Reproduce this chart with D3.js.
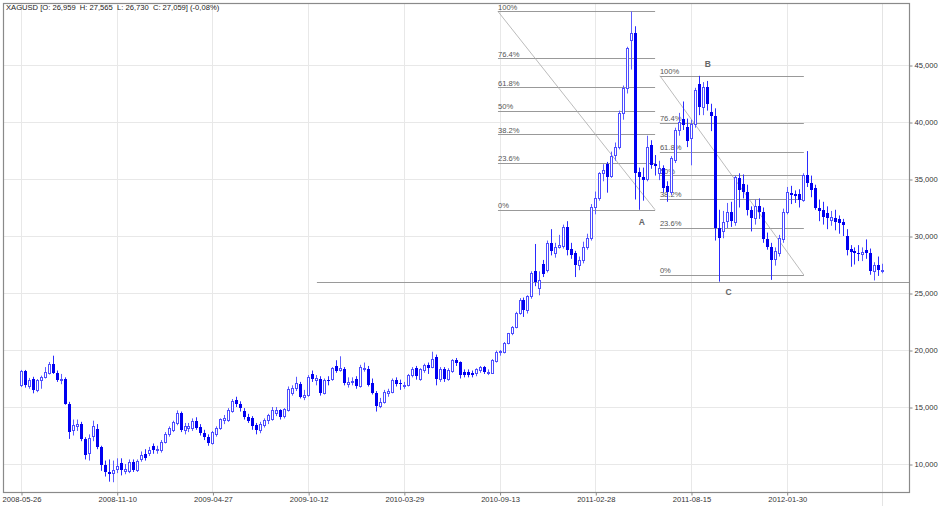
<!DOCTYPE html>
<html><head><meta charset="utf-8">
<script src="https://cdn.jsdelivr.net/npm/d3@7"></script>
<style>
body{margin:0;background:#fff}
svg{display:block}
text{font-family:"Liberation Sans",Arial,Helvetica,sans-serif}
</style>
</head><body>
<svg id="c" width="940" height="506"></svg>
<script>
// ---------- DATA ----------
const symbol = "XAGUSD";
const changeText = "(-0,08%)";
const tickLabels = ["2008-05-26","2008-11-10","2009-04-27","2009-10-12","2010-03-29","2010-09-13","2011-02-28","2011-08-15","2012-01-30"];
const tickBars = [0,24,48,72,96,120,144,168,192];
const extraGridBar = [216];
const yTicks = [10,15,20,25,30,35,40,45];

const opens = [16.95,18.15,16.85,17.5,16.5,17.35,17.6,17.95,18.75,17.95,17.4,17.45,15.3,13.0,13.35,13.5,12.2,11.0,12.5,13.1,
11.5,9.9,9.3,9.2,9.6,10.1,9.4,9.4,10.2,9.5,10.4,10.9,10.95,11.6,11.2,11.25,11.95,12.6,13.0,13.6,
14.5,13.0,13.2,13.15,13.75,13.25,12.75,12.4,11.8,12.6,13.15,13.9,13.85,14.65,15.65,15.3,14.65,14.15,14.0,13.4,
13.0,13.45,13.85,13.95,14.45,14.7,14.2,14.75,16.2,16.65,17.0,15.9,16.05,17.9,17.35,17.5,16.25,17.4,17.5,18.6,
18.25,18.3,17.0,17.15,17.5,16.8,18.3,18.3,17.1,16.2,15.1,15.45,16.2,16.35,17.35,17.1,16.85,16.95,17.8,18.4,
17.5,18.25,18.7,18.55,19.35,17.45,18.3,17.45,18.15,19.1,18.95,18.1,18.1,18.0,17.95,18.25,18.5,17.95,18.0,19.0,
19.8,19.85,20.65,21.45,22.05,23.25,24.4,23.5,24.75,26.9,25.4,27.55,27.0,29.35,28.5,29.05,29.1,30.8,28.9,28.5,
27.45,27.9,29.05,29.8,32.55,33.3,35.5,36.3,35.3,37.1,37.85,40.8,43.0,47.2,47.8,35.6,35.2,35.0,37.95,36.3,
35.5,35.95,34.35,33.9,36.7,39.3,40.3,39.6,38.6,39.85,43.35,41.3,43.05,40.85,40.55,30.7,30.4,31.3,32.1,31.25,
35.05,34.6,33.9,32.3,31.6,32.6,32.1,29.7,29.05,27.95,28.55,29.7,32.1,33.75,33.65,33.65,33.2,35.35,34.65,34.2,
32.45,32.3,32.0,31.4,31.6,31.5,31.25,30.0,28.9,28.65,28.55,28.45,28.8,28.5,26.9,27.45,26.959];
const highs = [18.25,18.25,17.55,17.65,17.45,17.75,18.5,18.95,19.5,18.2,17.9,17.6,15.45,13.9,13.9,13.7,12.35,12.6,13.8,13.5,
11.6,10.3,10.4,10.3,10.5,10.5,10.0,10.4,10.4,10.4,11.1,11.3,11.5,11.8,11.6,12.1,12.8,13.3,13.8,14.7,
14.6,13.6,13.6,14.0,14.1,13.5,13.0,12.6,12.9,13.3,14.0,14.3,14.9,15.7,15.9,15.5,14.9,14.4,14.2,13.6,
13.7,14.0,14.4,15.0,15.0,14.8,14.9,16.8,16.9,17.65,17.2,16.5,17.8,18.2,17.8,17.7,17.5,17.7,18.5,19.1,
19.45,18.5,17.6,17.6,17.7,18.7,18.9,18.6,17.5,16.4,15.8,16.5,16.6,17.5,17.6,17.4,17.2,17.9,18.5,18.6,
18.4,18.8,18.9,19.85,19.6,18.5,18.5,18.4,19.2,19.3,19.0,18.3,18.3,18.2,18.4,18.6,18.6,18.3,19.2,19.95,
20.0,20.7,21.5,22.1,23.35,24.55,24.6,24.8,26.9,29.3,26.9,27.9,29.6,30.6,29.4,30.1,31.0,31.3,29.4,28.7,
28.2,29.5,30.2,32.8,33.9,35.6,36.3,36.5,37.4,38.2,41.0,43.2,46.6,49.7,48.4,36.0,36.0,38.8,38.4,37.1,
36.6,36.2,34.8,37.0,39.5,40.8,41.8,40.3,40.2,43.0,44.05,43.5,43.6,41.6,41.2,32.3,32.2,32.9,33.0,35.3,
35.5,35.4,34.5,32.6,33.2,33.3,32.5,30.3,29.4,29.0,30.1,32.4,34.3,34.4,34.0,34.1,35.5,37.45,35.3,34.5,
33.2,33.0,32.6,32.2,32.3,31.8,31.5,30.6,29.2,29.0,29.2,29.0,29.7,28.9,27.7,28.2,27.565];
const lows = [16.75,16.7,16.6,16.2,16.3,16.6,17.5,17.85,17.9,17.2,17.0,15.2,12.2,12.5,12.9,12.0,10.4,10.3,12.0,11.3,
9.4,8.9,8.45,8.4,9.2,9.0,9.1,9.2,9.3,9.3,10.2,10.3,10.7,10.9,10.9,11.0,11.8,12.4,12.8,13.4,
12.8,12.6,12.8,12.9,13.0,12.5,12.1,11.6,11.7,12.4,13.0,13.5,13.7,14.5,15.0,14.6,13.9,13.6,13.0,12.6,
12.7,13.2,13.5,13.8,14.2,13.9,14.0,14.6,16.0,16.4,15.75,15.6,15.9,17.2,16.9,16.0,16.1,16.9,17.3,18.0,
18.1,16.9,16.7,16.9,16.6,16.7,18.1,16.8,16.1,14.6,14.9,15.3,15.9,16.2,16.8,16.5,16.6,16.8,17.6,17.4,
17.3,18.0,17.9,18.4,16.9,17.2,17.2,17.3,18.0,18.6,17.5,17.6,17.6,17.6,17.7,18.0,17.9,17.8,17.9,18.9,
19.5,19.7,20.5,21.3,21.9,23.1,22.9,23.2,24.5,25.6,24.8,26.4,26.8,28.3,28.1,28.9,28.9,28.3,28.0,26.4,
27.0,27.6,28.8,29.6,31.9,33.1,34.8,33.8,35.1,36.6,37.6,40.2,42.5,44.6,33.2,32.3,33.1,34.8,35.9,35.3,
34.9,33.8,33.0,33.6,36.4,38.8,39.3,37.8,36.2,39.5,40.6,40.6,41.0,39.2,29.6,26.0,29.8,30.7,30.8,30.9,
32.5,33.3,31.8,30.4,31.0,31.5,29.4,28.8,26.15,27.4,28.2,29.4,31.9,32.8,32.9,32.5,33.0,34.3,33.4,32.3,
31.3,31.0,30.6,30.9,30.5,30.2,30.0,28.3,27.3,27.5,27.8,27.8,28.0,26.6,26.1,26.5,26.73];
const closes = [18.15,16.9,17.4,16.45,17.35,17.6,18.1,18.75,17.95,17.4,17.45,15.3,12.85,13.4,13.5,12.15,10.8,12.25,13.3,11.5,
9.9,9.3,9.1,9.5,9.8,9.5,9.6,10.2,9.45,10.3,10.8,10.5,11.25,11.2,11.3,11.95,12.65,13.15,13.65,14.45,
13.0,13.35,13.3,13.8,13.2,12.7,12.35,11.8,12.8,13.2,13.95,14.0,14.75,15.55,15.25,14.9,14.15,13.75,13.3,13.0,
13.55,13.9,14.3,14.75,14.75,14.1,14.8,16.6,16.7,17.1,15.9,16.05,17.65,17.45,17.55,16.2,17.35,17.3,18.4,18.2,
18.4,17.1,17.2,17.3,16.8,18.55,18.4,16.95,16.2,15.05,15.45,16.35,16.4,17.35,17.0,17.0,16.95,17.8,18.3,17.7,
18.3,18.7,18.4,19.25,17.45,18.35,17.45,18.25,19.1,18.9,17.85,17.8,17.85,17.85,18.3,18.5,18.1,18.1,19.1,19.85,
19.9,20.65,21.45,22.05,23.25,24.35,23.5,24.7,26.75,26.0,26.1,26.7,29.35,28.65,29.05,29.25,30.8,28.8,28.35,27.5,
27.9,29.05,29.8,32.55,33.3,35.5,35.8,35.2,37.0,37.85,40.8,43.0,46.5,47.8,35.5,35.2,34.9,37.8,36.2,36.15,
35.95,34.2,33.9,36.8,39.3,40.0,39.7,38.3,39.85,42.8,41.3,43.05,41.6,40.55,30.7,29.85,31.25,32.1,31.3,35.15,
34.0,33.9,32.3,31.6,32.6,32.1,29.7,29.05,27.9,28.65,29.8,32.1,33.85,33.6,33.5,33.2,35.35,34.65,34.05,32.45,
32.15,31.7,31.55,31.7,31.25,31.1,30.95,28.8,28.6,28.5,28.4,28.6,28.5,26.9,27.45,27.0,27.059];

// Fibonacci retracements (A: peak->low, B->C)
const fibLevels = [1, 0.764, 0.618, 0.5, 0.382, 0.236, 0];
const fibLevelLabels = ["100%","76.4%","61.8%","50%","38.2%","23.6%","0%"];
const fibHigh = [49.7, 44.06];
const fibLow = [32.3, 26.58];
const fibStartBar = [119.6, 160.2];
const fibEndBar = [159.0, 196.3];
const supportLevel = 26.0;
const supportStartBar = 74.2;
const pointLabels = ["A","B","C"];
const pointBars = [155.7, 172.2, 177.4];
const pointValues = [31.2, 45.05, 25.0];

// ---------- CHART ----------
const svg = d3.select("#c");
const W = 940, H = 506;
const L = 3, T = 3, R = 909, B = 492;
const x = d3.scaleLinear().domain([0, 192]).range([21, 786.7]);
const y = d3.scaleLinear().domain([10, 45]).range([464, 65]);
const fmt = v => v.toFixed(3).replace('.', ',');
const px = v => Math.round(v) + 0.5;

svg.append("rect").attr("width", W).attr("height", H).attr("fill", "#fff");

// grid
const grid = svg.append("g");
grid.selectAll("line.h").data(yTicks).join("line")
  .attr("x1", L).attr("x2", R)
  .attr("y1", d => px(y(d))).attr("y2", d => px(y(d)))
  .attr("stroke", "#e8e8e8");
grid.selectAll("line.v").data(tickBars).join("line")
  .attr("x1", d => px(x(d))).attr("x2", d => px(x(d)))
  .attr("y1", T).attr("y2", B)
  .attr("stroke", "#e8e8e8");
grid.selectAll("line.v2").data(extraGridBar).join("line")
  .attr("x1", d => px(x(d))).attr("x2", d => px(x(d)))
  .attr("y1", T).attr("y2", H)
  .attr("stroke", "#e4e4e4");

// support line
svg.append("line")
  .attr("x1", x(supportStartBar)).attr("x2", R)
  .attr("y1", px(y(supportLevel))).attr("y2", px(y(supportLevel)))
  .attr("stroke", "#9a9a9a");

// fib lines
const fibG = svg.append("g");
fibHigh.forEach((hi, k) => {
  const lo = fibLow[k];
  const x0 = x(fibStartBar[k]), x1 = x(fibEndBar[k]);
  fibLevels.forEach((lv) => {
    const yy = px(y(lo + (hi - lo) * lv));
    fibG.append("line").attr("x1", x0).attr("x2", x1).attr("y1", yy).attr("y2", yy)
      .attr("stroke", "#999").attr("stroke-width", 1);
  });
  fibG.append("line").attr("x1", x0).attr("y1", y(hi)).attr("x2", x1).attr("y2", y(lo))
    .attr("stroke", "#aaa").attr("stroke-width", 0.8);
});

// candles
const data = closes.map((c, i) => ({i, o: opens[i], h: highs[i], l: lows[i], c}));
const upCol = "#4d4dff", dnCol = "#0000f0";
const cg = svg.append("g");
cg.selectAll("line.w").data(data).join("line")
  .attr("x1", d => Math.round(x(d.i)) + 0.5).attr("x2", d => Math.round(x(d.i)) + 0.5)
  .attr("y1", d => y(d.h)).attr("y2", d => y(d.l))
  .attr("stroke", d => d.c >= d.o ? "#5c5cff" : "#2a2aff").attr("stroke-width", 1);
cg.selectAll("rect.b").data(data).join("rect")
  .attr("x", d => d.c >= d.o ? Math.round(x(d.i)) - 0.5 : Math.round(x(d.i)) - 1)
  .attr("width", d => d.c >= d.o ? 2 : 3)
  .attr("y", d => {
    const t = Math.round(y(Math.max(d.o, d.c)));
    return d.c >= d.o ? t + 0.5 : t;
  })
  .attr("height", d => {
    const t = Math.round(y(Math.max(d.o, d.c))), b = Math.round(y(Math.min(d.o, d.c)));
    return Math.max(1, b - t);
  })
  .attr("fill", d => d.c >= d.o ? "#fff" : dnCol)
  .attr("stroke", d => d.c >= d.o ? upCol : "none")
  .attr("stroke-width", 1);

// fib labels
fibHigh.forEach((hi, k) => {
  const lo = fibLow[k];
  const x0 = x(fibStartBar[k]);
  fibG.selectAll(null).data(fibLevels).join("text")
    .attr("x", x0).attr("y", (lv) => y(lo + (hi - lo) * lv) - 1.5)
    .attr("font-size", 7.6).attr("fill", "#555")
    .text((lv, j) => fibLevelLabels[j]);
});

// point labels
svg.selectAll("text.pt").data(pointLabels).join("text")
  .attr("x", (d, i) => x(pointBars[i])).attr("y", (d, i) => y(pointValues[i]))
  .attr("text-anchor", "middle").attr("dominant-baseline", "middle")
  .attr("font-size", 8.5).attr("font-weight", "bold").attr("fill", "#666")
  .text(d => d);

// frame
svg.append("rect").attr("x", L + 0.5).attr("y", T + 0.5).attr("width", R - L).attr("height", B - T)
  .attr("fill", "none").attr("stroke", "#8a8a8a").attr("stroke-width", 1.2);

// y axis (right)
const yAxis = d3.axisRight(y).tickValues(yTicks).tickFormat(fmt).tickSize(3).tickPadding(2);
const ya = svg.append("g").attr("transform", `translate(${R + 0.5},0.5)`).call(yAxis);
ya.select(".domain").remove();
ya.selectAll("line").attr("stroke", "#888");
ya.selectAll("text").attr("font-size", 7.6).attr("fill", "#333")
  .attr("font-family", '"Liberation Sans",Arial,sans-serif');

// x axis
const xAxis = d3.axisBottom(x).tickValues(tickBars).tickFormat((d, i) => tickLabels[i]).tickSize(3).tickPadding(1);
const xa = svg.append("g").attr("transform", `translate(0.5,${B + 0.5})`).call(xAxis);
xa.select(".domain").remove();
xa.selectAll("line").attr("stroke", "#888");
xa.selectAll("text").attr("font-size", 7.6).attr("fill", "#333")
  .attr("font-family", '"Liberation Sans",Arial,sans-serif');

// title
const last = data[data.length - 1];
svg.append("text").attr("x", 6).attr("y", 10)
  .attr("font-size", 7.6).attr("fill", "#222").style("white-space", "pre")
  .text(`${symbol} [O: ${fmt(last.o)}  H: ${fmt(last.h)}  L: ${fmt(last.l)}  C: ${fmt(last.c)}] ${changeText}`);
</script>
</body></html>
